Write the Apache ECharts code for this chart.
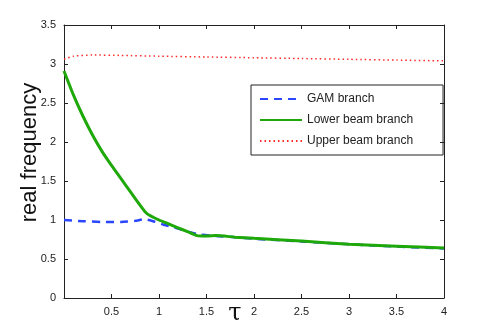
<!DOCTYPE html>
<html>
<head>
<meta charset="utf-8">
<script src="https://cdn.jsdelivr.net/npm/echarts@6/dist/echarts.min.js"></script>
<style>
  html, body { margin: 0; padding: 0; background: #fff; }
  #chart { width: 491px; height: 336px; }
</style>
</head>
<body>
<div id="chart"></div>
<script>
// values
var tauGam = [0, 0.2, 0.4, 0.6, 0.75, 0.85, 0.95, 1.05, 1.2, 1.4, 1.6, 1.8, 2.0, 2.5, 3.0, 3.5, 4.0];
var gamBranch = [1.0, 0.985, 0.975, 0.975, 0.99, 1.01, 0.98, 0.94, 0.89, 0.82, 0.795, 0.78, 0.76, 0.725, 0.69, 0.66, 0.635];

var tauLower = [0, 0.1, 0.2, 0.3, 0.4, 0.5, 0.6, 0.7, 0.8, 0.85, 0.9, 1.0, 1.1, 1.2, 1.3, 1.4, 1.5, 1.6, 1.8, 2.0, 2.5, 3.0, 3.5, 4.0];
var lowerBranch = [2.91, 2.6, 2.33, 2.09, 1.88, 1.70, 1.53, 1.36, 1.19, 1.11, 1.06, 1.0, 0.95, 0.9, 0.85, 0.8, 0.795, 0.8, 0.78, 0.765, 0.73, 0.69, 0.665, 0.64];

var tauUpper = [0, 0.1, 0.3, 0.6, 1.0, 1.5, 2.0, 2.5, 3.0, 3.5, 4.0];
var upperBranch = [3.06, 3.1, 3.115, 3.11, 3.1, 3.09, 3.08, 3.07, 3.06, 3.05, 3.04];

function pairs(xs, ys) {
    return xs.map(function (x, i) { return [x, ys[i]]; });
}

var chart = echarts.init(document.getElementById('chart'));
var axisLine = { show: true, onZero: false, lineStyle: { color: '#222', width: 1 } };
var tick = { inside: true, length: 4, lineStyle: { color: '#222' } };
var option = {
    backgroundColor: '#fff',
    animation: false,
    textStyle: { fontFamily: 'Liberation Sans' },
    grid: { left: 64, right: 47, top: 25, bottom: 38 },
    legend: {
        orient: 'vertical',
        left: 251,
        top: 85,
        padding: [8, 30, 8, 8],
        itemWidth: 42,
        itemHeight: 14,
        itemGap: 9,
        borderColor: '#222',
        borderWidth: 1,
        itemStyle: { opacity: 0 },
        textStyle: { fontSize: 12, color: '#222' },
        data: ['GAM branch', 'Lower beam branch', 'Upper beam branch']
    },
    xAxis: [{
        type: 'value',
        min: 0, max: 4, interval: 0.5,
        name: 'τ',
        nameLocation: 'middle',
        nameMoveOverlap: false,
        nameGap: 4,
        nameTextStyle: { fontSize: 24, color: '#111', fontFamily: 'DejaVu Serif', padding: [0, 38, 0, 0] },
        axisLine: axisLine,
        axisTick: tick,
        axisLabel: {
            fontSize: 11, color: '#222', margin: 8,
            formatter: function (v) { return v === 0 ? '' : String(v); }
        },
        splitLine: { show: false }
    }, {
        type: 'value', position: 'top',
        min: 0, max: 4, interval: 0.5,
        axisLine: axisLine,
        axisTick: tick,
        axisLabel: { show: false },
        splitLine: { show: false }
    }],
    yAxis: [{
        type: 'value',
        min: 0, max: 3.5, interval: 0.5,
        name: 'real frequency',
        nameLocation: 'middle',
        nameMoveOverlap: false,
        nameGap: 23,
        nameTextStyle: { fontSize: 22, color: '#111', padding: [0, 0, 0, 18] },
        axisLine: axisLine,
        axisTick: tick,
        axisLabel: { fontSize: 11, color: '#222', margin: 8 },
        splitLine: { show: false }
    }, {
        type: 'value', position: 'right',
        min: 0, max: 3.5, interval: 0.5,
        axisLine: axisLine,
        axisTick: tick,
        axisLabel: { show: false },
        splitLine: { show: false }
    }],
    series: [{
        name: 'GAM branch',
        type: 'line',
        symbol: 'none',
        smooth: 0.2,
        data: pairs(tauGam, gamBranch),
        lineStyle: { color: '#2a47ff', width: 2.5, type: [8, 6] },
        itemStyle: { color: '#2a47ff' },
        z: 2
    }, {
        name: 'Lower beam branch',
        type: 'line',
        symbol: 'none',
        smooth: 0.2,
        data: pairs(tauLower, lowerBranch),
        lineStyle: { color: '#1ea80a', width: 3 },
        itemStyle: { color: '#1ea80a' },
        z: 3
    }, {
        name: 'Upper beam branch',
        type: 'line',
        symbol: 'none',
        smooth: 0.2,
        data: pairs(tauUpper, upperBranch),
        lineStyle: { color: '#ff2a2a', width: 1.5, type: [1.5, 3] },
        itemStyle: { color: '#ff2a2a' },
        z: 4
    }]
};
chart.setOption(option);
window.onresize = function () { chart.resize(); };
</script>
</body>
</html>
